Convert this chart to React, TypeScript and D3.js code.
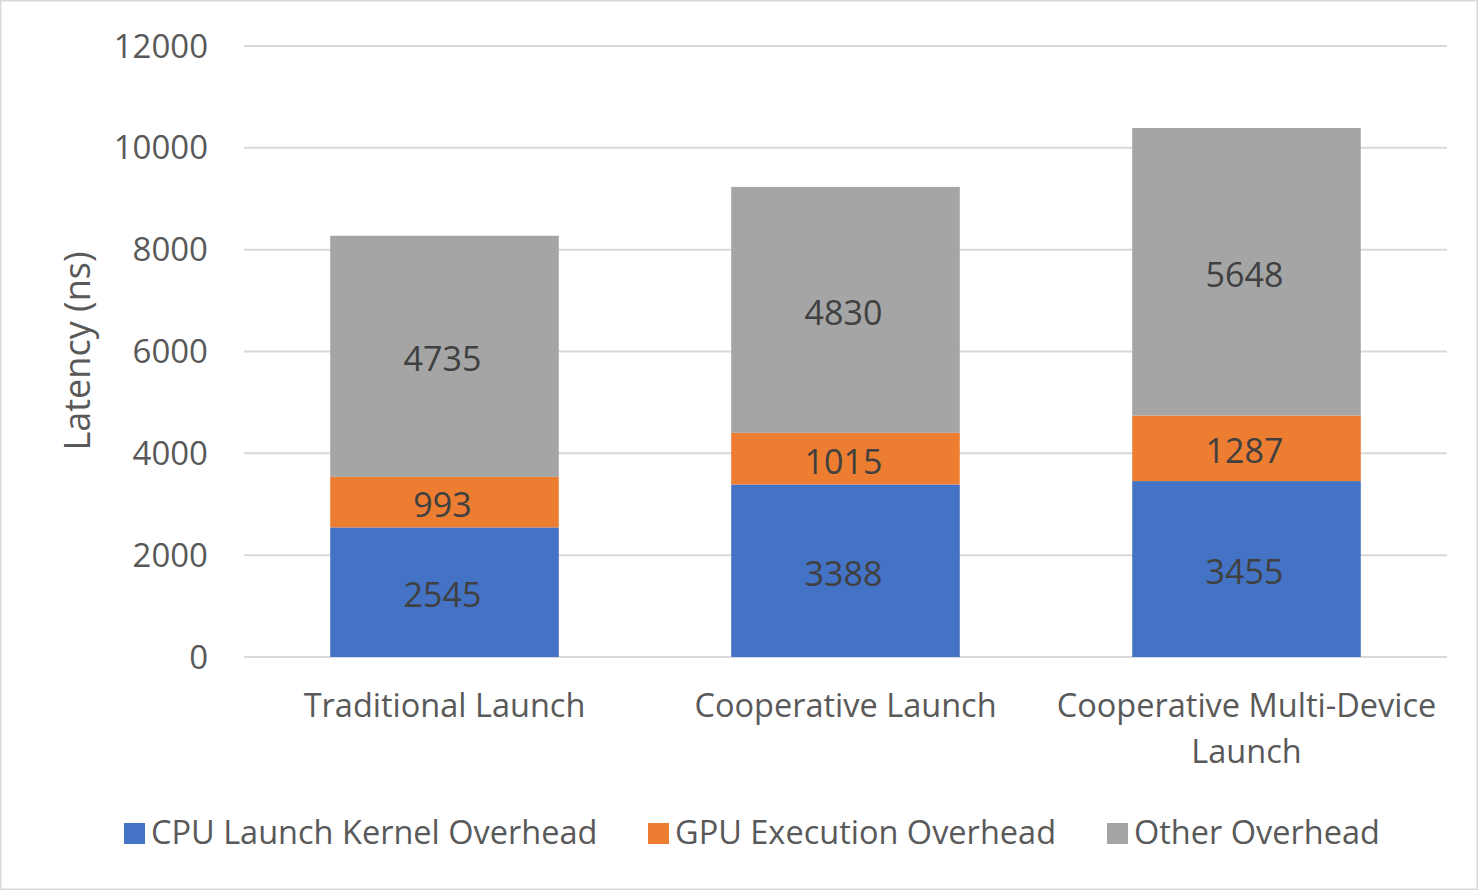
import { useEffect, useRef } from "react";
import * as d3 from "d3";

const categories = ["Traditional Launch", "Cooperative Launch", "Cooperative Multi-Device Launch"];
const seriesNames = ["CPU Launch Kernel Overhead", "GPU Execution Overhead", "Other Overhead"];
const cpuOverhead = [2545, 3388, 3455];
const gpuOverhead = [993, 1015, 1287];
const otherOverhead = [4735, 4830, 5648];
const yTicks = [0, 2000, 4000, 6000, 8000, 10000, 12000];
const colors = ["#4472C4", "#ED7D31", "#A5A5A5"];

const W = 1478;
const H = 890;
const FONT = "'Open Sans', 'Noto Sans', sans-serif";

function StackedBars() {
  const svgRef = useRef<SVGSVGElement | null>(null);

  useEffect(() => {
    const svg = d3.select(svgRef.current);
    svg.selectAll("*").remove();

    const margin = { top: 46, right: 31, bottom: 233, left: 244 };
    const innerW = W - margin.left - margin.right;
    const innerH = H - margin.top - margin.bottom;

    // frame
    svg.append("rect")
      .attr("x", 0.5).attr("y", 0.5)
      .attr("width", W - 1).attr("height", H - 1)
      .attr("fill", "#fff").attr("stroke", "#d9d9d9").attr("stroke-width", 2);

    const g = svg.append("g").attr("transform", `translate(${margin.left},${margin.top})`);

    const x = d3.scaleBand().domain(categories).range([0, innerW]).paddingInner(0.43).paddingOuter(0.215);
    const y = d3.scaleLinear().domain([0, 12000]).range([innerH, 0]);

    // gridlines + tick labels
    g.selectAll(".grid").data(yTicks).enter().append("line")
      .attr("x1", 0).attr("x2", innerW)
      .attr("y1", (d) => y(d)).attr("y2", (d) => y(d))
      .attr("stroke", "#d9d9d9").attr("stroke-width", 2);

    g.selectAll(".ytick").data(yTicks).enter().append("text")
      .attr("x", -36).attr("y", (d) => y(d))
      .attr("dy", "0.35em")
      .attr("text-anchor", "end")
      .attr("font-family", FONT).attr("font-size", 33)
      .attr("fill", "#595959")
      .text((d) => d);

    // stacked data
    const rows = categories.map((c, i) => ({ cat: c, s0: cpuOverhead[i], s1: gpuOverhead[i], s2: otherOverhead[i] }));
    const stack = d3.stack<any>().keys(["s0", "s1", "s2"]);
    const layers = stack(rows);

    layers.forEach((layer, li) => {
      const lg = g.append("g");
      lg.selectAll("rect").data(layer).enter().append("rect")
        .attr("x", (d: any) => x(d.data.cat)!)
        .attr("width", x.bandwidth())
        .attr("y", (d) => y(d[1]))
        .attr("height", (d) => y(d[0]) - y(d[1]))
        .attr("fill", colors[li]);
      lg.selectAll("text").data(layer).enter().append("text")
        .attr("x", (d: any) => x(d.data.cat)! - 2 + x.bandwidth() / 2)
        .attr("y", (d) => (y(d[0]) + y(d[1])) / 2 + 3)
        .attr("dy", "0.35em")
        .attr("text-anchor", "middle")
        .attr("font-family", FONT).attr("font-size", 34)
        .attr("fill", "#404040")
        .text((d) => d[1] - d[0]);
    });

    // category labels (wrapped)
    const catLabels: Record<string, string[]> = {
      "Traditional Launch": ["Traditional Launch"],
      "Cooperative Launch": ["Cooperative Launch"],
      "Cooperative Multi-Device Launch": ["Cooperative Multi-Device", "Launch"],
    };
    categories.forEach((c) => {
      const t = g.append("text")
        .attr("text-anchor", "middle")
        .attr("font-family", FONT).attr("font-size", 32.5)
        .attr("fill", "#595959");
      catLabels[c].forEach((line, i) => {
        t.append("tspan")
          .attr("x", x(c)! + x.bandwidth() / 2)
          .attr("y", innerH + 49 + i * 46)
          .attr("dy", "0.35em")
          .text(line);
      });
    });

    // y axis title
    svg.append("text")
      .attr("transform", `translate(77,351) rotate(-90)`)
      .attr("dy", "0.35em")
      .attr("text-anchor", "middle")
      .attr("font-family", FONT).attr("font-size", 36)
      .attr("fill", "#595959")
      .text("Latency (ns)");

    // legend
    const legendX = [124, 648, 1107];
    seriesNames.forEach((name, i) => {
      const lg = svg.append("g").attr("transform", `translate(${legendX[i]},833)`);
      lg.append("rect").attr("x", 0).attr("y", -10).attr("width", 21).attr("height", 21).attr("fill", colors[i]);
      lg.append("text")
        .attr("x", 27).attr("y", 0).attr("dy", "0.35em")
        .attr("font-family", FONT).attr("font-size", 32.5)
        .attr("fill", "#595959")
        .text(name);
    });
  }, []);

  return <svg ref={svgRef} width={W} height={H} style={{ position: "absolute", left: 0, top: 0 }} />;
}

export default function App() {
  return <StackedBars />;
}
